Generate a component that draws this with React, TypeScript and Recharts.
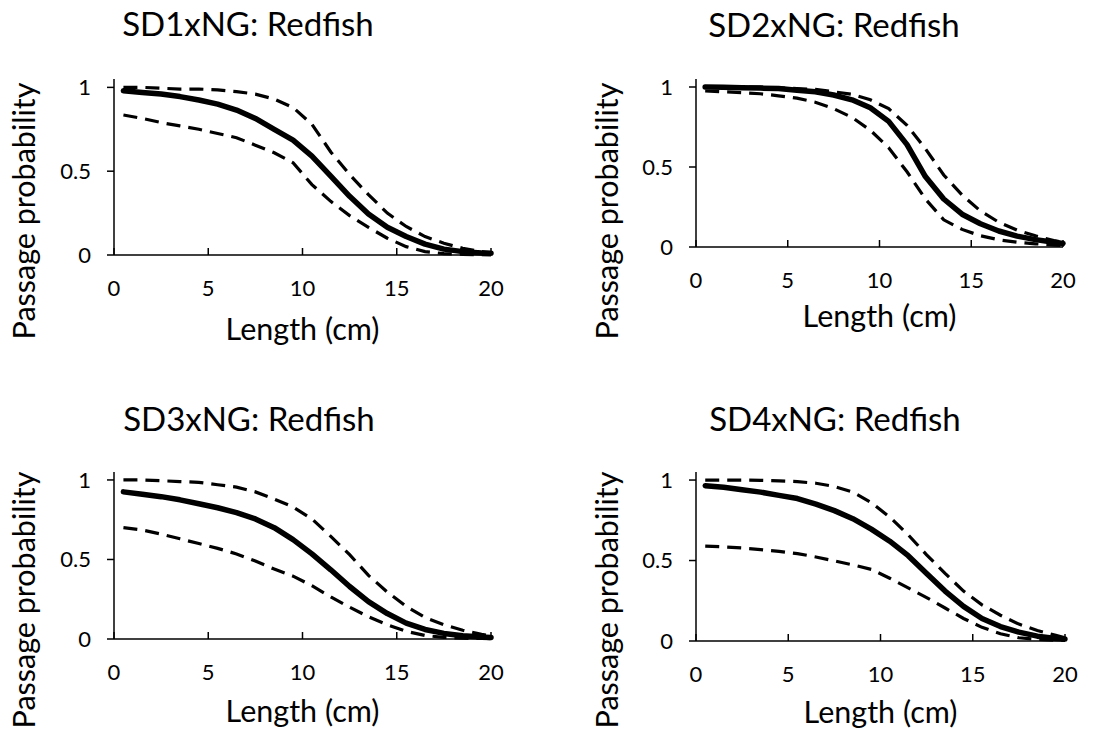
import React from "react";
import { LineChart, Line, XAxis, YAxis } from "recharts";

// ================= Data =================
const lengths = [0.5, 1.5, 2.5, 3.5, 4.5, 5.5, 6.5, 7.5, 8.5, 9.5, 10.5, 11.5, 12.5, 13.5, 14.5, 15.5, 16.5, 17.5, 18.5, 19.5, 20];

const sd1Mid = [0.98, 0.97, 0.96, 0.945, 0.925, 0.9, 0.865, 0.815, 0.75, 0.685, 0.59, 0.47, 0.35, 0.245, 0.165, 0.11, 0.065, 0.035, 0.02, 0.012, 0.01];
const sd1Hi = [1.0, 1.0, 0.995, 0.99, 0.99, 0.985, 0.975, 0.96, 0.93, 0.88, 0.78, 0.615, 0.48, 0.36, 0.25, 0.17, 0.11, 0.07, 0.04, 0.02, 0.015];
const sd1Lo = [0.835, 0.815, 0.79, 0.77, 0.75, 0.725, 0.7, 0.655, 0.61, 0.55, 0.42, 0.32, 0.235, 0.165, 0.1, 0.05, 0.02, 0.008, 0.004, 0.002, 0.001];

const sd2Mid = [1.0, 0.998, 0.995, 0.993, 0.99, 0.98, 0.97, 0.95, 0.92, 0.87, 0.785, 0.64, 0.44, 0.3, 0.205, 0.145, 0.1, 0.068, 0.046, 0.03, 0.022];
const sd2Hi = [1.0, 1.0, 1.0, 1.0, 0.995, 0.99, 0.985, 0.97, 0.955, 0.92, 0.865, 0.76, 0.615, 0.45, 0.325, 0.225, 0.155, 0.105, 0.07, 0.04, 0.03];
const sd2Lo = [0.975, 0.97, 0.965, 0.958, 0.945, 0.93, 0.905, 0.865, 0.81, 0.73, 0.62, 0.47, 0.3, 0.17, 0.11, 0.07, 0.045, 0.03, 0.02, 0.012, 0.01];

const sd3Mid = [0.925, 0.91, 0.895, 0.875, 0.85, 0.825, 0.795, 0.755, 0.7, 0.625, 0.535, 0.435, 0.33, 0.235, 0.16, 0.1, 0.06, 0.035, 0.02, 0.012, 0.01];
const sd3Hi = [1.0, 1.0, 0.995, 0.99, 0.985, 0.97, 0.955, 0.925, 0.88, 0.83, 0.755, 0.645, 0.53, 0.4, 0.295, 0.205, 0.135, 0.09, 0.055, 0.03, 0.02];
const sd3Lo = [0.7, 0.685, 0.66, 0.63, 0.6, 0.57, 0.535, 0.49, 0.44, 0.395, 0.335, 0.265, 0.2, 0.14, 0.09, 0.048, 0.022, 0.01, 0.005, 0.003, 0.002];

const sd4Mid = [0.965, 0.955, 0.94, 0.925, 0.905, 0.885, 0.85, 0.81, 0.76, 0.695, 0.62, 0.53, 0.42, 0.31, 0.215, 0.14, 0.09, 0.055, 0.03, 0.016, 0.012];
const sd4Hi = [1.0, 1.0, 1.0, 0.998, 0.995, 0.99, 0.98, 0.96, 0.925, 0.86, 0.77, 0.66, 0.535, 0.42, 0.31, 0.225, 0.16, 0.105, 0.065, 0.035, 0.02];
const sd4Lo = [0.59, 0.585, 0.578, 0.568, 0.557, 0.543, 0.522, 0.498, 0.473, 0.445, 0.39, 0.33, 0.27, 0.205, 0.14, 0.085, 0.045, 0.02, 0.01, 0.005, 0.003];

const xTicks = [0, 5, 10, 15, 20];
const yTicks = [0, 0.5, 1];

const FONT = "Lato, 'Open Sans', sans-serif";

const makeRows = (mid: number[], hi: number[], lo: number[]) =>
  lengths.map((x, i) => ({ x, mid: mid[i], hi: hi[i], lo: lo[i] }));

// plot box in page pixels: left, top (value 1.05), right, bottom (value 0)
const panels = [
  { title: "SD1xNG: Redfish", rows: makeRows(sd1Mid, sd1Hi, sd1Lo), ox: 0, oy: 0, l: 114, t: 79, r: 491, b: 255, titleX: 248, titleY: 36, xLabY: 340, yLabX: 35 },
  { title: "SD2xNG: Redfish", rows: makeRows(sd2Mid, sd2Hi, sd2Lo), ox: 547, oy: 0, l: 696, t: 79, r: 1063, b: 247, titleX: 834, titleY: 37, xLabY: 327, yLabX: 618 },
  { title: "SD3xNG: Redfish", rows: makeRows(sd3Mid, sd3Hi, sd3Lo), ox: 0, oy: 365, l: 114, t: 472, r: 491, b: 639, titleX: 249, titleY: 431, xLabY: 722, yLabX: 35 },
  { title: "SD4xNG: Redfish", rows: makeRows(sd4Mid, sd4Hi, sd4Lo), ox: 547, oy: 365, l: 696, t: 472, r: 1065, b: 641, titleX: 835, titleY: 431, xLabY: 723, yLabX: 618 },
];

const PW = 547;
const PH = 365;
const Y_AXIS_W = 60;
const X_AXIS_H = 60;

const Panel = ({ p }: { p: (typeof panels)[number] }) => {
  const margin = {
    left: p.l - p.ox - Y_AXIS_W,
    top: p.t - p.oy,
    right: p.ox + PW - p.r,
    bottom: p.oy + PH - p.b - X_AXIS_H,
  };
  const tickStyle = { fontSize: 22, fill: "#000", fontFamily: FONT };
  return (
    <div style={{ position: "absolute", left: p.ox, top: p.oy }}>
      <LineChart width={PW} height={PH} data={p.rows} margin={margin}>
        <XAxis
          type="number"
          dataKey="x"
          domain={[0, 20]}
          ticks={xTicks}
          interval={0}
          height={X_AXIS_H}
          tickSize={-7}
          tickMargin={32}
          tick={tickStyle}
          axisLine={{ stroke: "#000", strokeWidth: 1.5 }}
          tickLine={{ stroke: "#000", strokeWidth: 1.5 }}
        />
        <YAxis
          type="number"
          domain={[0, 1.05]}
          ticks={yTicks}
          interval={0}
          width={Y_AXIS_W}
          tickSize={7}
          tickMargin={16}
          tick={tickStyle}
          axisLine={{ stroke: "#000", strokeWidth: 1.5 }}
          tickLine={{ stroke: "#000", strokeWidth: 1.5 }}
        />
        <Line type="linear" dataKey="hi" stroke="#000" strokeWidth={3.2} strokeDasharray="14 8" dot={false} isAnimationActive={false} />
        <Line type="linear" dataKey="lo" stroke="#000" strokeWidth={3.2} strokeDasharray="14 8" dot={false} isAnimationActive={false} />
        <Line type="linear" dataKey="mid" stroke="#000" strokeWidth={5.5} strokeLinecap="round" strokeLinejoin="round" dot={false} isAnimationActive={false} />
      </LineChart>
    </div>
  );
};

const App = () => {
  return (
    <div style={{ position: "absolute", left: 0, top: 0, width: 1094, height: 731, background: "#fff" }}>
      {panels.map((p) => (
        <Panel key={p.title} p={p} />
      ))}
      {/* titles and axis titles */}
      <svg width={1094} height={731} style={{ position: "absolute", left: 0, top: 0, pointerEvents: "none" }}>
        {panels.map((p) => {
          const cx = (p.l + p.r) / 2;
          const cyLabel = p.oy === 0 ? 211 : 600;
          return (
            <g key={p.title} fontFamily={FONT} fill="#000">
              <text x={p.titleX} y={p.titleY} fontSize={33} textAnchor="middle">
                {p.title}
              </text>
              <text x={cx} y={p.xLabY} fontSize={30.5} textAnchor="middle">
                Length (cm)
              </text>
              <text x={p.yLabX} y={cyLabel} fontSize={30.5} textAnchor="middle" transform={`rotate(-90 ${p.yLabX} ${cyLabel})`}>
                Passage probability
              </text>
            </g>
          );
        })}
      </svg>
    </div>
  );
};

export default App;
